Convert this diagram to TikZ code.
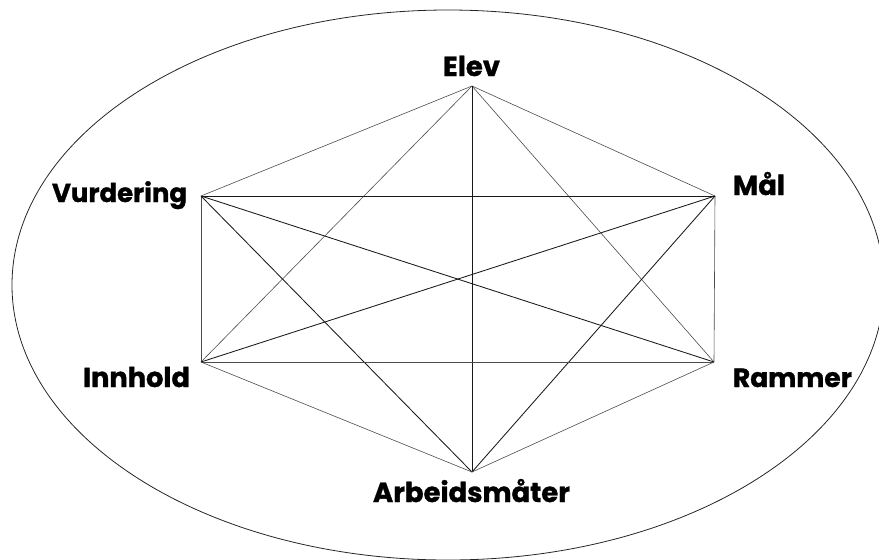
\documentclass[tikz,border=0pt]{standalone}
\usepackage{fontspec}
\usepackage{graphicx}
\setmainfont{Poppins}[BoldFeatures={FakeBold=1.2}]
\newcommand{\fitlbl}[2]{\resizebox{#1pt}{!}{\fontsize{20}{24}\selectfont\bfseries #2}}
\begin{document}
\begin{tikzpicture}[x=1pt,y=-1pt,
  thinline/.style={draw=black!70,line width=0.6pt},
  darkline/.style={draw=black!90,line width=0.85pt},
  lbl/.style={inner sep=0pt,anchor=base}]
\useasboundingbox (0,0) rectangle (879,560);
\clip (0,0) rectangle (879,560);
\draw[draw=black!85,line width=0.8pt] (448,285) ellipse [x radius=436,y radius=275];
\coordinate (E) at (472,86);
\coordinate (V) at (201,196);
\coordinate (M) at (715,196);
\coordinate (I) at (201,362);
\coordinate (R) at (714,362);
\coordinate (A) at (472,472);
\draw[thinline] (E) -- (V);
\draw[thinline] (E) -- (M);
\draw[thinline] (E) -- (I);
\draw[thinline] (E) -- (R);
\draw[darkline] (E) -- (A);
\draw[darkline] (V) -- (M);
\draw[thinline] (V) -- (I);
\draw[darkline] (V) -- (R);
\draw[darkline] (V) -- (A);
\draw[darkline] (M) -- (I);
\draw[thinline] (M) -- (R);
\draw[darkline] (M) -- (A);
\draw[thinline] (I) -- (R);
\draw[thinline] (I) -- (A);
\draw[thinline] (R) -- (A);
\node[lbl] (tE) at (471.5,76) {\fitlbl{57}{Elev}};
\node[lbl] (tV) at (119.5,202) {\fitlbl{135}{Vurdering}};
\node[lbl] (tM) at (759,195) {\fitlbl{52}{Mål}};
\node[lbl] (tI) at (136.5,387) {\fitlbl{107}{Innhold}};
\node[lbl] (tR) at (792.5,387) {\fitlbl{119}{Rammer}};
\node[lbl] (tA) at (471.5,502) {\fitlbl{197}{Arbeidsmåter}};
\end{tikzpicture}
\end{document}
